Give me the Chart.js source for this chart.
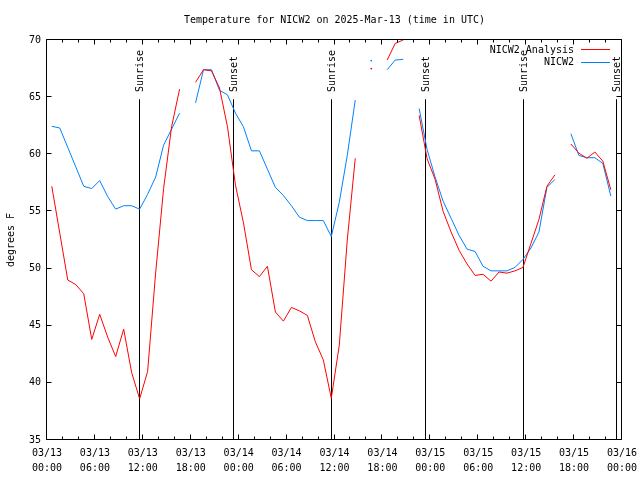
<!DOCTYPE html>
<html>
<head>
<meta charset="utf-8">
<script src="https://cdn.jsdelivr.net/npm/chart.js@4.4.1/dist/chart.umd.min.js"></script>
<style>
html,body{margin:0;padding:0;background:#ffffff;}
#wrap{width:640px;height:480px;}
</style>
</head>
<body>
<div id="wrap"><canvas id="c" width="640" height="480"></canvas></div>
<script>
// ---- data (hours since 2025-03-13 00:00 UTC) ----
const hours = [
  0.6, 1.6, 2.6, 3.6, 4.6, 5.6, 6.6, 7.6, 8.6, 9.6,
  10.6, 11.6, 12.6, 13.6, 14.6, 15.6, 16.6, 17.6, 18.6, 19.6,
  20.6, 21.6, 22.6, 23.6, 24.6, 25.6, 26.6, 27.6, 28.6, 29.6,
  30.6, 31.6, 32.6, 33.6, 34.6, 35.6, 36.6, 37.6, 38.6, 39.6,
  40.6, 41.6, 42.6, 43.6, 44.6, 45.6, 46.6, 47.6, 48.6, 49.6,
  50.6, 51.6, 52.6, 53.6, 54.6, 55.6, 56.6, 57.6, 58.6, 59.6,
  60.6, 61.6, 62.6, 63.6, 64.6, 65.6, 66.6, 67.6, 68.6, 69.6,
  70.6
];
const analysisTemps = [
  57.2, 53.1, 49.0, 48.6, 47.8, 43.8, 46.0, 44.0, 42.3, 44.7,
  40.9, 38.6, 41.0, 49.6, 57.0, 62.4, 65.7, null, 66.3, 67.4,
  67.3, 65.8, 62.4, 57.3, 54.0, 49.9, 49.3, 50.2, 46.2, 45.4,
  46.6, 46.3, 45.9, 43.6, 42.0, 38.65, 43.3, 52.5, 59.65, null,
  67.5, null, 68.25, 69.7, 70.0, null, 63.4, 59.6, 57.8, 55.0,
  53.2, 51.6, 50.4, 49.4, 49.5, 48.9, 49.7, 49.6, 49.8, 50.1,
  52.2, 54.3, 57.2, 58.2, null, 60.9, 60.1, 59.65, 60.2, 59.4,
  56.9
];
const observedTemps = [
  62.45, 62.3, 60.6, 58.9, 57.2, 57.0, 57.7, 56.3, 55.2, 55.5,
  55.5, 55.2, 56.5, 58.0, 60.8, 62.2, 63.6, null, 64.5, 67.4,
  67.4, 65.6, 65.2, 63.6, 62.4, 60.3, 60.3, 58.7, 57.1, 56.4,
  55.5, 54.5, 54.2, 54.2, 54.2, 52.8, 55.8, 59.9, 64.75, null,
  68.2, null, 67.4, 68.25, 68.3, null, 64.0, 60.4, 58.0, 55.9,
  54.4, 52.9, 51.7, 51.5, 50.2, 49.8, 49.8, 49.8, 50.1, 50.8,
  51.8, 53.2, 57.1, 57.8, null, 61.8, 59.9, 59.7, 59.7, 59.2,
  56.35
];
const xTickLabels = [
  '03/13 00:00', '03/13 06:00', '03/13 12:00', '03/13 18:00',
  '03/14 00:00', '03/14 06:00', '03/14 12:00', '03/14 18:00',
  '03/15 00:00', '03/15 06:00', '03/15 12:00', '03/15 18:00',
  '03/16 00:00'
];
const sunEventHours = [11.55, 23.35, 35.6, 47.35, 59.55, 71.3];
const sunEventLabels = ['Sunrise', 'Sunset', 'Sunrise', 'Sunset', 'Sunrise', 'Sunset'];
const seriesNames = ['NICW2 Analysis', 'NICW2'];
const seriesColors = ['#ff0000', '#0080ff'];
const chartTitle = 'Temperature for NICW2 on 2025-Mar-13 (time in UTC)';
const yAxisTitle = 'degrees F';

const FONT = "'DejaVu Sans Mono', 'Liberation Mono', monospace";

function toPoints(vals) {
  return hours.map((h, i) => ({ x: h, y: vals[i] }));
}
function isolatedRadius(ctx) {
  const d = ctx.dataset.data;
  const i = ctx.dataIndex;
  if (d[i].y == null) return 0;
  const prev = i > 0 ? d[i - 1].y : null;
  const next = i < d.length - 1 ? d[i + 1].y : null;
  return (prev == null && next == null) ? 0.9 : 0;
}

const decorPlugin = {
  id: 'decor',
  beforeDatasetsDraw(chart) {
    const { ctx, chartArea: a, scales: { x } } = chart;
    const h = a.bottom - a.top;
    ctx.save();
    ctx.strokeStyle = '#000';
    ctx.lineWidth = 1;
    ctx.fillStyle = '#000';
    ctx.font = '10px ' + FONT;
    sunEventHours.forEach((t, i) => {
      const px = Math.round(x.getPixelForValue(t)) + 0.5;
      ctx.beginPath();
      ctx.moveTo(px, a.bottom - 0.852 * h);
      ctx.lineTo(px, a.bottom);
      ctx.stroke();
      ctx.save();
      ctx.translate(px + 0.5, a.bottom - 0.87 * h);
      ctx.rotate(-Math.PI / 2);
      ctx.textAlign = 'left';
      ctx.textBaseline = 'middle';
      ctx.fillText(sunEventLabels[i], 0, 0);
      ctx.restore();
    });
    ctx.restore();
  },
  afterDatasetsDraw(chart) {
    const { ctx, chartArea: a, scales: { x, y } } = chart;
    ctx.save();
    ctx.strokeStyle = '#000';
    ctx.lineWidth = 1;
    const L = Math.round(a.left) - 0.5, R = Math.round(a.right) - 0.5;
    const T = Math.round(a.top) - 0.5, B = Math.round(a.bottom) - 0.5;
    ctx.beginPath();
    ctx.rect(L, T, R - L, B - T);
    ctx.stroke();
    // x ticks: major every 6 h, minor every 2 h
    ctx.beginPath();
    for (let t = 0; t <= 72; t += 2) {
      const px = Math.round(x.getPixelForValue(t)) - 0.5;
      const len = (t % 6 === 0) ? 5 : 3;
      ctx.moveTo(px, B); ctx.lineTo(px, B - len);
      ctx.moveTo(px, T); ctx.lineTo(px, T + len);
    }
    // y ticks every 5
    for (let v = 35; v <= 70; v += 5) {
      const py = Math.round(y.getPixelForValue(v)) - 0.5;
      ctx.moveTo(L, py); ctx.lineTo(L + 5, py);
      ctx.moveTo(R, py); ctx.lineTo(R - 5, py);
    }
    ctx.stroke();
    ctx.restore();
  },
  afterDraw(chart) {
    const { ctx, chartArea: a } = chart;
    ctx.save();
    // title centered over plot area
    ctx.font = '10px ' + FONT;
    ctx.fillStyle = '#000';
    ctx.textAlign = 'center';
    ctx.textBaseline = 'middle';
    ctx.fillText(chartTitle, (a.left + a.right) / 2, a.top - 20);
    // legend
    ctx.textAlign = 'right';
    chart.data.datasets.forEach((ds, k) => {
      const yy = a.top + 10 + k * 12.5;
      ctx.fillStyle = '#000';
      ctx.fillText(ds.label, a.right - 48, yy);
      ctx.strokeStyle = ds.borderColor;
      ctx.lineWidth = 1;
      ctx.beginPath();
      ctx.moveTo(a.right - 41, Math.round(yy) - 0.5);
      ctx.lineTo(a.right - 12, Math.round(yy) - 0.5);
      ctx.stroke();
    });
    ctx.restore();
  }
};

new Chart(document.getElementById('c').getContext('2d'), {
  type: 'line',
  data: {
    datasets: [
      {
        label: seriesNames[0],
        data: toPoints(analysisTemps),
        borderColor: seriesColors[0],
        backgroundColor: seriesColors[0],
        borderWidth: 1,
        pointRadius: isolatedRadius,
        pointBorderWidth: 0,
        pointHoverRadius: 0,
        spanGaps: false,
        tension: 0,
        fill: false
      },
      {
        label: seriesNames[1],
        data: toPoints(observedTemps),
        borderColor: seriesColors[1],
        backgroundColor: seriesColors[1],
        borderWidth: 1,
        pointRadius: isolatedRadius,
        pointBorderWidth: 0,
        pointHoverRadius: 0,
        spanGaps: false,
        tension: 0,
        fill: false
      }
    ]
  },
  options: {
    responsive: false,
    animation: false,
    events: [],
    layout: { padding: { top: 40, right: 18, left: 0, bottom: 0 } },
    plugins: {
      legend: { display: false },
      tooltip: { enabled: false },
      title: { display: false }
    },
    scales: {
      x: {
        type: 'linear',
        min: 0,
        max: 72,
        grid: { display: false, drawTicks: false },
        border: { display: false },
        afterFit(s) { s.height = 40; s.paddingLeft = 0; s.paddingRight = 0; },
        afterBuildTicks(s) { s.ticks = xTickLabels.map((_, i) => ({ value: i * 6 })); },
        ticks: {
          autoSkip: false,
          maxRotation: 0,
          minRotation: 0,
          padding: 6,
          color: '#000',
          font: { family: FONT, size: 10, lineHeight: 1.5 },
          callback(v) { return xTickLabels[Math.round(v / 6)].split(' '); }
        }
      },
      y: {
        min: 35,
        max: 70,
        grid: { display: false, drawTicks: false },
        border: { display: false },
        afterFit(s) { s.width = 47; s.paddingTop = 0; s.paddingBottom = 0; },
        ticks: {
          stepSize: 5,
          padding: 6,
          color: '#000',
          font: { family: FONT, size: 10 }
        },
        title: {
          display: true,
          text: yAxisTitle,
          color: '#000',
          font: { family: FONT, size: 10 },
          padding: { top: 5, bottom: 0 }
        }
      }
    }
  },
  plugins: [decorPlugin]
});
</script>
</body>
</html>
